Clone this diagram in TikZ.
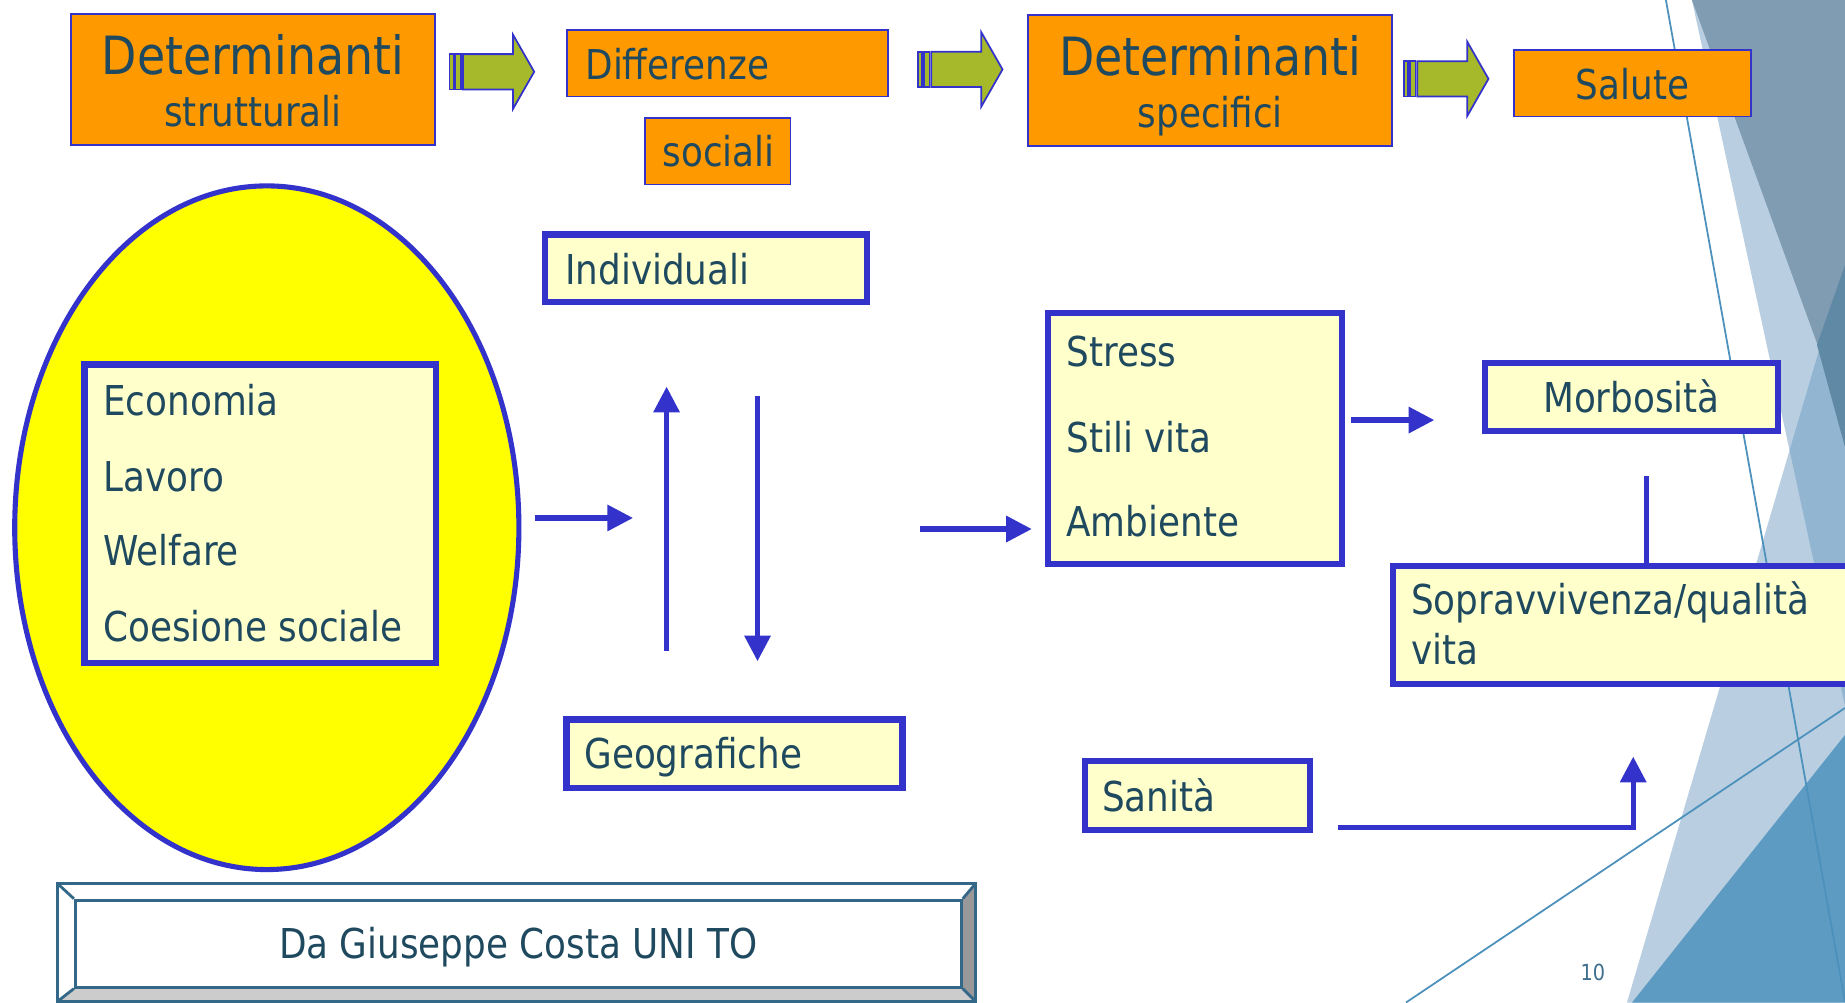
\documentclass[tikz,border=0pt]{standalone}
\usepackage{fontspec}
\setmainfont{DejaVu Sans}[FakeStretch=0.87]
\usetikzlibrary{arrows.meta,fit,shapes.geometric}
\definecolor{bblue}{RGB}{51,51,204}
\definecolor{orangec}{RGB}{255,153,0}
\definecolor{lyellow}{RGB}{255,255,204}
\definecolor{yellowc}{RGB}{255,255,0}
\definecolor{agreen}{RGB}{166,185,42}
\definecolor{txtc}{RGB}{31,73,94}
\definecolor{framec}{RGB}{51,104,136}
\definecolor{pgc}{RGB}{62,110,142}
\definecolor{bgbase}{RGB}{100,150,190}
\definecolor{bgdark}{RGB}{94,155,194}
\definecolor{bggray}{RGB}{127,156,178}
\definecolor{bgsteel}{RGB}{95,137,165}
\definecolor{bgline}{RGB}{76,144,188}
\tikzset{
  obox/.style={draw=bblue, fill=orangec, line width=0.5pt, inner sep=0pt},
  ybox/.style={draw=bblue, fill=lyellow, line width=1.75pt, inner sep=0pt},
  txt/.style={text=txtc, inner sep=0pt, font=\fontsize{11.7}{14}\selectfont},
  bigtxt/.style={text=txtc, inner sep=0pt, font=\fontsize{15}{18}\selectfont},
  conn/.style={draw=bblue, line width=1.5pt},
  tipped/.style={-{Triangle[length=7.3pt,width=7.2pt]}},
  garrow/.style={fill=agreen, draw=bblue, line width=0.5pt},
  bgl/.style={draw=bgline, line width=0.5pt},
  bgsoft/.style={fill=bgbase, fill opacity=0.45},
  blockarrow/.pic={
    \filldraw[garrow] (0,-15) rectangle (3.5,15);
    \filldraw[garrow] (5,-15) rectangle (10,15);
    \filldraw[garrow] (11.5,-15) -- (54,-15) -- (54,-31.5) -- (72,0)
      -- (54,31.5) -- (54,15) -- (11.5,15) -- cycle;
  }
}
\begin{document}
\begin{tikzpicture}[x=0.11767mm,y=-0.11767mm]
\useasboundingbox (0,0) rectangle (1568,852);
\clip (0,0) rectangle (1568,852);
\fill[white] (0,0) rectangle (1568,852);
% ---- background decoration
\fill[bgsoft] (1382.7,852) -- (1568,852) -- (1568,222.7) -- cycle;
\fill[bgsoft] (1437.9,0) -- (1568,0) -- (1568,600) -- cycle;
\fill[bgdark] (1387,852) -- (1568,852) -- (1568,624.6) -- cycle;
\fill[bggray] (1437.9,0) -- (1568,0) -- (1568,357) -- cycle;
\fill[bgsteel] (1568,225.2) -- (1544.2,293.2) -- (1568,380) -- cycle;
\draw[bgl] (1415.8,0) -- (1568,851.5);
\draw[bgl] (1194.9,852) -- (1568,601.7);
% ---- top row
\node[obox, fit={(60.4,11.7) (369.6,123.1)}] (ds) {};
\node[bigtxt, anchor=base] (dsT1) at (215,63) {Determinanti};
\node[txt, anchor=base] (dsT2) at (215,107.7) {strutturali};
\pic at (382,61) {blockarrow};
\node[obox, fit={(481.8,25.8) (754.8,82.1)}] (diff) {};
\node[txt, anchor=base west] (diffT) at (497,67.4) {Differenze};
\node[obox, fit={(548.4,100.1) (671.8,156.9)}] (soc) {};
\node[txt, anchor=base west] (socT) at (562.6,141.6) {sociali};
\pic at (780,59) {blockarrow};
\node[obox, fit={(873.9,12.9) (1183.1,124.1)}] (dsp) {};
\node[bigtxt, anchor=base] (dspT1) at (1028.5,64.4) {Determinanti};
\node[txt, anchor=base] (dspT2) at (1028.5,108.5) {specifici};
\pic at (1193,67) {blockarrow};
\node[obox, fit={(1286.4,42.8) (1488.3,99.1)}] (sal) {};
\node[txt, anchor=base] (salT) at (1387.5,84.4) {Salute};
% ---- ellipse with list
\node[ellipse, draw=bblue, fill=yellowc, line width=1.45pt, inner sep=0pt,
      minimum width=50.42mm, minimum height=68.37mm] (ell) at (226.75,448.5) {};
\node[ybox, fit={(71.8,309.8) (370.2,563.2)}] (econ) {};
\node[txt, anchor=base west] (e1) at (87.2,352.7) {Economia};
\node[txt, anchor=base west] (e2) at (87.2,417.8) {Lavoro};
\node[txt, anchor=base west] (e3) at (87.2,481) {Welfare};
\node[txt, anchor=base west] (e4) at (87.2,545.3) {Coesione sociale};
% ---- middle boxes
\node[ybox, fit={(463.2,199.3) (736.8,256.6)}] (indiv) {};
\node[txt, anchor=base west] (indT) at (479.7,241.5) {Individuali};
\node[ybox, fit={(481.5,611.5) (767,669.5)}] (geo) {};
\node[txt, anchor=base west] (geoT) at (496,653.5) {Geografiche};
\node[ybox, fit={(890.5,266.3) (1140.5,479.5)}] (stress) {};
\node[txt, anchor=base west] (s1) at (905.7,311.9) {Stress};
\node[txt, anchor=base west] (s2) at (905.7,384.2) {Stili vita};
\node[txt, anchor=base west] (s3) at (905.7,455.9) {Ambiente};
\node[ybox, fit={(1261.8,308.8) (1511.2,366.2)}] (morb) {};
\node[txt, anchor=base] (morbT) at (1386.5,350.3) {Morbosità};
\node[ybox, fit={(1183.8,480.8) (1600,581.2)}] (sopr) {};
\node[txt, anchor=base west] (so1) at (1198.7,522.6) {Sopravvivenza/qualità};
\node[txt, anchor=base west] (so2) at (1198.7,565) {vita};
\node[ybox, fit={(921.8,646.8) (1113,705.5)}] (san) {};
\node[txt, anchor=base west] (sanT) at (936,690) {Sanità};
% ---- connectors
\coordinate (c1s) at (455,440.2);  \coordinate (c1e) at (538,440.2);
\coordinate (c2s) at (566.5,553);  \coordinate (c2e) at (566.5,328.6);
\coordinate (c3s) at (643.8,336.4); \coordinate (c3e) at (643.8,562);
\coordinate (c4s) at (782,449.6);  \coordinate (c4e) at (876.9,449.6);
\coordinate (c5s) at (1148,357);   \coordinate (c5e) at (1219,357);
\coordinate (c6s) at (1399.5,404.5);
\coordinate (c7s) at (1137,703);   \coordinate (c7e) at (1388,643);
\draw[conn, tipped] (c1s) -- (c1e);
\draw[conn, tipped] (c2s) -- (c2e);
\draw[conn, tipped] (c3s) -- (c3e);
\draw[conn, tipped] (c4s) -- (c4e);
\draw[conn, tipped] (c5s) -- (c5e);
\draw[conn] (c6s) -- (c6s |- sopr.north);
\draw[conn, tipped] (c7s) -| (c7e);
% ---- bevelled credit frame
\fill[white] (49,751) -- (829,751) -- (817,765) -- (64,765) -- cycle;
\fill[white] (49,751) -- (64,765) -- (64,839) -- (49,851) -- cycle;
\fill[black!40] (829,751) -- (829,851) -- (817,839) -- (817,765) -- cycle;
\fill[black!20] (49,851) -- (64,839) -- (817,839) -- (829,851) -- cycle;
\node[draw=framec, fill=white, line width=0.8pt, inner sep=0pt,
      fit={(64,765) (817,839)}] (credit) {};
\draw[framec, line width=0.8pt] (49,751) rectangle (829,851);
\draw[framec, line width=0.8pt] (49,751) -- (credit.north west)
  (829,751) -- (credit.north east) (829,851) -- (credit.south east)
  (49,851) -- (credit.south west);
\node[txt, anchor=base] (creditT) at (440.5,815) {Da Giuseppe Costa UNI TO};
\node[text=pgc, inner sep=0pt, anchor=base west, font=\fontsize{6.3}{7}\selectfont] (pg) at (1342.8,833) {10};
\end{tikzpicture}
\end{document}
